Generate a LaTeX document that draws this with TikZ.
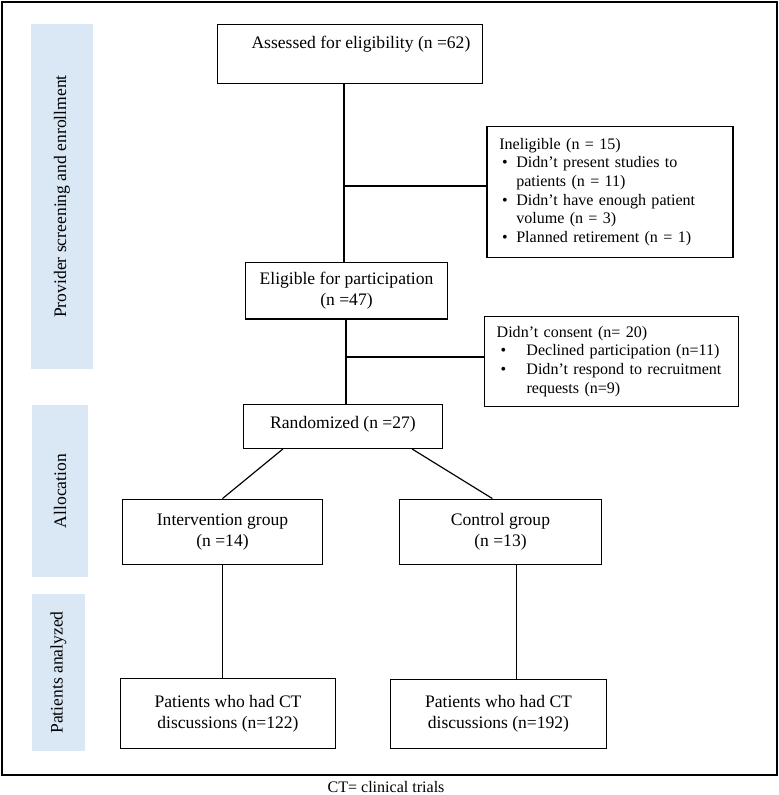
\documentclass[tikz,border=0pt]{standalone}
\usepackage{fontspec}
\setmainfont{Liberation Serif}
\usepackage{tikz}
\usetikzlibrary{calc,positioning}
\definecolor{bandblue}{HTML}{DAE8F5}
\newcommand{\bulA}{\hspace*{2.5pt}\makebox[12pt][l]{\textbullet}}
\newcommand{\indA}{\hspace*{14.5pt}}
\newcommand{\bulB}{\hspace*{3.4pt}\makebox[22pt][l]{\textbullet}}
\newcommand{\indB}{\hspace*{25.5pt}}
\tikzset{
  box/.style={draw,line width=1pt,align=center,inner sep=0pt,font=\fontsize{15}{18}\selectfont},
  notebox/.style={draw,line width=1pt,align=left,inner xsep=10.5pt,inner ysep=0pt,font=\fontsize{13.7}{16}\selectfont},
  band/.style={fill=bandblue,rotate=90,inner sep=0pt,font=\fontsize{15}{18}\selectfont},
  conn/.style={line width=1pt},
  frame/.style={line width=1.7pt}
}
\begin{document}
\begin{tikzpicture}[x=0.3mm,y=-0.3mm]
\useasboundingbox (0,0) rectangle (779,795);
\draw[frame] (2,2) rectangle (777,775);
% stage bands
\node[band,minimum width=295pt,minimum height=52.7pt] (bscreen) at (62,196.5) {Provider screening and enrollment};
\node[band,minimum width=146.3pt,minimum height=47.6pt] (balloc) at (60,491) {Allocation};
\node[band,minimum width=133.5pt,minimum height=45pt] (bpat) at (58.5,672.5) {Patients analyzed};
% boxes
\node[box,anchor=north,minimum width=226.2pt,text height=20.4pt,text depth=29.8pt] (assess) at (350,24) {\hspace*{18.7pt}Assessed for eligibility (n =62)};
\node[notebox,text width=189pt,minimum height=112.3pt] (inelig) at (610,192) {Ineligible (n = 15)\\
\bulA Didn’t present studies to\\
\indA patients (n = 11)\\
\bulA Didn’t have enough patient\\
\indA volume (n = 3)\\
\bulA Planned retirement (n = 1)};
\node[box,minimum width=172.6pt,minimum height=48.5pt] (elig) at (346.5,290.5) {Eligible for participation\\(n =47)};
\node[notebox,text width=196pt,minimum height=77.4pt] (consent) at (611.5,361.5) {Didn’t consent (n= 20)\\
\bulB Declined participation (n=11)\\
\bulB Didn’t respond to recruitment\\
\indB requests (n=9)};
\node[box,anchor=north,minimum width=170pt,text height=20.4pt,text depth=17pt] (random) at (343,404) {Randomized (n =27)};
\node[box,minimum width=171pt,minimum height=56.1pt] (interv) at (222.5,532) {Intervention group\\(n =14)};
\node[box,minimum width=172.6pt,minimum height=56.1pt] (control) at (500.5,532) {Control group\\(n =13)};
\node[box,minimum width=183.7pt,minimum height=60.4pt] (patI) at (228,713.5) {Patients who had CT\\discussions (n=122)};
\node[box,minimum width=184.5pt,minimum height=59.5pt] (patC) at (498.5,714) {Patients who had CT\\discussions (n=192)};
% connectors
\coordinate (b1) at (344,186);
\coordinate (b2) at (346,357);
\draw[conn] (b1 |- assess.south) -- (b1 |- elig.north);
\draw[conn] (b1) -- (b1 -| inelig.west);
\draw[conn] (b2 |- elig.south) -- (b2 |- random.north);
\draw[conn] (b2) -- (b2 -| consent.west);
\draw[conn] ($(random.south west)!0.2!(random.south east)$) -- (interv.north);
\draw[conn] ($(random.south west)!0.845!(random.south east)$) -- ($(control.north west)!0.46!(control.north east)$);
\draw[conn] (interv.south) -- (interv.south |- patI.north);
\coordinate (cs) at ($(control.south west)!0.58!(control.south east)$);
\draw[conn] (cs) -- (cs |- patC.north);
\node[inner sep=0pt,font=\fontsize{13.7}{16}\selectfont] (note) at (386,787) {CT= clinical trials};
\end{tikzpicture}
\end{document}
